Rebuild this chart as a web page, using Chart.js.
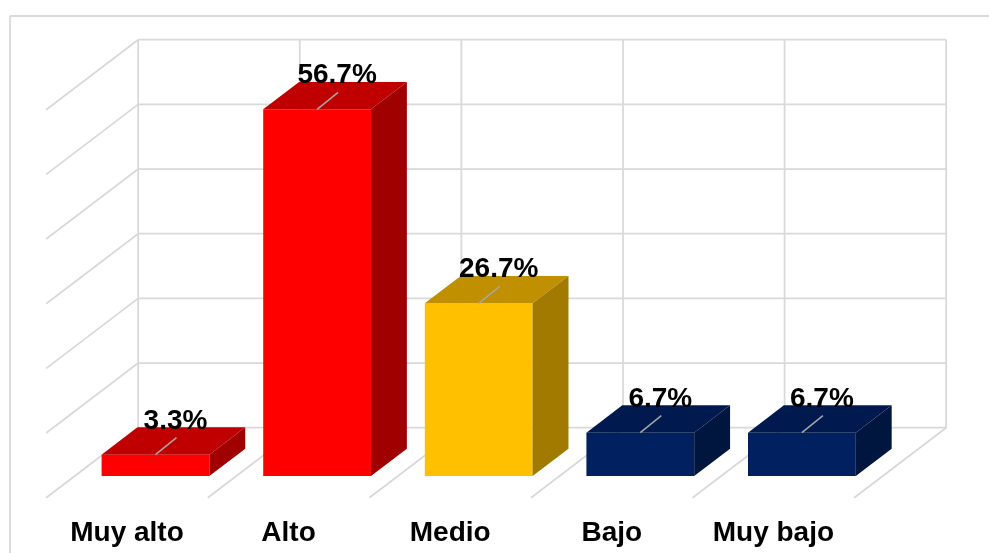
<!DOCTYPE html>
<html>
<head>
<meta charset="utf-8">
<title>Nivel</title>
<script src="https://cdn.jsdelivr.net/npm/chart.js@4.4.1/dist/chart.umd.min.js"></script>
<style>
    html, body { margin: 0; padding: 0; background: #fff; }
    #wrap { width: 989px; height: 553px; position: relative; }
</style>
</head>
<body>
<div id="wrap"><canvas id="nivelChart"></canvas></div>
<script>
var categories = ['Muy alto', 'Alto', 'Medio', 'Bajo', 'Muy bajo'];
var percentages = [3.3, 56.7, 26.7, 6.7, 6.7];
var wallTicks = [0, 10, 20, 30, 40, 50, 60];

(function () {
    'use strict';

    var frontColors = ['#ff0000', '#ff0000', '#ffc000', '#002060', '#002060'];
    var topColors = ['#c00000', '#c00000', '#c09000', '#001a50', '#001a50'];
    var sideColors = ['#a00000', '#a00000', '#a27a00', '#00163f', '#00163f'];

    var GRID = '#d9d9d9';
    var FONT = 'bold 28px "Liberation Sans", Arial, sans-serif';

    // oblique depth: floor front -> back wall
    var DEPTH = { x: 92, y: -70 };
    var BAR_FRONT = 0.31;
    var BAR_BACK = 0.70;

    var off = function (f) {
        return { x: DEPTH.x * (f - BAR_FRONT), y: DEPTH.y * (f - BAR_FRONT) };
    };

    var poly = function (ctx, pts, color) {
        ctx.beginPath();
        ctx.moveTo(pts[0][0], pts[0][1]);
        for (var i = 1; i < pts.length; i++) ctx.lineTo(pts[i][0], pts[i][1]);
        ctx.closePath();
        ctx.fillStyle = color;
        ctx.fill();
    };

    var line = function (ctx, x1, y1, x2, y2) {
        ctx.beginPath();
        ctx.moveTo(x1, y1);
        ctx.lineTo(x2, y2);
        ctx.stroke();
    };

    var wallPlugin = {
        id: 'wall3d',
        beforeDatasetsDraw: function (chart) {
            var ctx = chart.ctx;
            var area = chart.chartArea;
            var yS = chart.scales.y;
            var wall = off(1);
            var floor = off(0);
            var n = categories.length;
            var cat = (area.right - area.left) / n;

            ctx.save();
            ctx.strokeStyle = GRID;
            ctx.lineWidth = 1.8;

            // outer frame (top and left)
            line(ctx, 10, 16, chart.width, 16);
            line(ctx, 10, 16, 10, chart.height);

            // back wall horizontals + left wall diagonals
            wallTicks.forEach(function (v) {
                var y = yS.getPixelForValue(v) + wall.y;
                var xl = area.left + wall.x;
                line(ctx, xl, y, area.right + wall.x, y);
                line(ctx, xl, y, xl - DEPTH.x, y - DEPTH.y);
            });

            // back wall verticals + floor diagonals
            var yTop = yS.getPixelForValue(wallTicks[wallTicks.length - 1]) + wall.y;
            var y0 = yS.getPixelForValue(0);
            for (var i = 0; i <= n; i++) {
                var bx = area.left + i * cat;
                line(ctx, bx + wall.x, yTop, bx + wall.x, y0 + wall.y);
                if (i > 0) line(ctx, bx + floor.x, y0 + floor.y, bx + wall.x, y0 + wall.y);
            }
            ctx.restore();
        },
        afterDatasetsDraw: function (chart) {
            var ctx = chart.ctx;
            var meta = chart.getDatasetMeta(0);
            var d = { x: DEPTH.x * (BAR_BACK - BAR_FRONT), y: DEPTH.y * (BAR_BACK - BAR_FRONT) };
            var floor = off(0);

            ctx.save();
            meta.data.forEach(function (bar, i) {
                var p = bar.getProps(['x', 'y', 'base', 'width'], true);
                var l = p.x - p.width / 2;
                var r = p.x + p.width / 2;

                poly(ctx, [[l, p.y], [l + d.x, p.y + d.y], [r + d.x, p.y + d.y], [r, p.y]], topColors[i]);
                poly(ctx, [[r, p.y], [r + d.x, p.y + d.y], [r + d.x, p.base + d.y], [r, p.base]], sideColors[i]);

                // leader line + value label
                var lx = p.x + 21;
                var ly = p.y - 17;
                ctx.strokeStyle = '#a6a6a6';
                ctx.lineWidth = 1.5;
                line(ctx, p.x, p.y, lx, ly);

                ctx.fillStyle = '#000';
                ctx.font = FONT;
                ctx.textAlign = 'center';
                ctx.textBaseline = 'alphabetic';
                ctx.fillText(percentages[i].toFixed(1) + '%', lx - 1, ly - 9);

                // category label at floor front
                ctx.fillText(categories[i], p.x + floor.x, p.base + 65);
            });
            ctx.restore();
        }
    };

    document.addEventListener('DOMContentLoaded', function () {
        var el = document.getElementById('nivelChart');
        new Chart(el.getContext('2d'), {
            type: 'bar',
            data: {
                labels: categories,
                datasets: [{
                    data: percentages,
                    backgroundColor: frontColors,
                    borderWidth: 0,
                    categoryPercentage: 1,
                    barPercentage: 0.667
                }]
            },
            options: {
                responsive: true,
                maintainAspectRatio: false,
                animation: false,
                layout: { padding: { left: 74.7, right: 106.3, top: 88, bottom: 77 } },
                plugins: {
                    legend: { display: false },
                    tooltip: { enabled: false }
                },
                scales: {
                    x: { display: false },
                    y: { display: false, min: 0, max: 60 }
                }
            },
            plugins: [wallPlugin]
        });
    });
})();
</script>
</body>
</html>
